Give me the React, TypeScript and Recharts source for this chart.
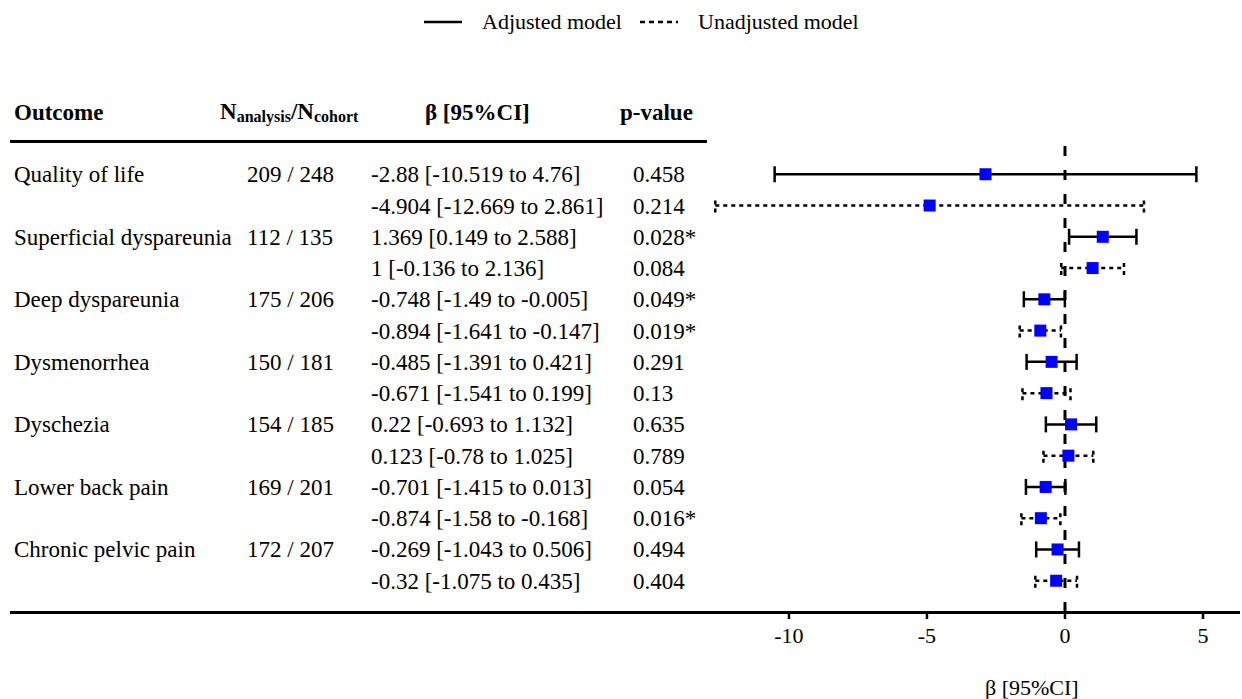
import React from 'react';
import { ErrorBar, ReferenceLine, Scatter, ScatterChart, XAxis, YAxis } from 'recharts';

const outcomes = [
  'Quality of life',
  'Superficial dyspareunia',
  'Deep dyspareunia',
  'Dysmenorrhea',
  'Dyschezia',
  'Lower back pain',
  'Chronic pelvic pain',
];
const nAnalysis = [209, 112, 175, 150, 154, 169, 172];
const nCohort = [248, 135, 206, 181, 185, 201, 207];

const adjBeta = [-2.88, 1.369, -0.748, -0.485, 0.22, -0.701, -0.269];
const adjLow = [-10.519, 0.149, -1.49, -1.391, -0.693, -1.415, -1.043];
const adjHigh = [4.76, 2.588, -0.005, 0.421, 1.132, 0.013, 0.506];
const adjP = ['0.458', '0.028*', '0.049*', '0.291', '0.635', '0.054', '0.494'];

const unadjBeta = [-4.904, 1, -0.894, -0.671, 0.123, -0.874, -0.32];
const unadjLow = [-12.669, -0.136, -1.641, -1.541, -0.78, -1.58, -1.075];
const unadjHigh = [2.861, 2.136, -0.147, 0.199, 1.025, -0.168, 0.435];
const unadjP = ['0.214', '0.084', '0.019*', '0.13', '0.789', '0.016*', '0.404'];

const xTicks = [-10, -5, 0, 5];

const FONT = '"Liberation Serif", "Times New Roman", serif';
const CHART = { W: 1242, H: 699, TOP: 143, LEFT: 710, RIGHT: 2, AXIS_H: 87 } as const;
const Y_DOMAIN: [number, number] = [-1, 14];
const ROW_PX = (CHART.H - CHART.AXIS_H - CHART.TOP) / (Y_DOMAIN[1] - Y_DOMAIN[0]);
const rowY = (i: number) => CHART.TOP + (i - Y_DOMAIN[0]) * ROW_PX;

const adjData = adjBeta.map((b, i) => ({ x: b, y: i * 2, err: [b - adjLow[i], adjHigh[i] - b] }));
const unadjData = unadjBeta.map((b, i) => ({
  x: b,
  y: i * 2 + 1,
  err: [b - unadjLow[i], unadjHigh[i] - b],
}));

const tableRows = outcomes.flatMap((name, i) => [
  {
    name,
    n: `${nAnalysis[i]} / ${nCohort[i]}`,
    ci: `${adjBeta[i]} [${adjLow[i]} to ${adjHigh[i]}]`,
    p: adjP[i],
  },
  {
    name: '',
    n: '',
    ci: `${unadjBeta[i]} [${unadjLow[i]} to ${unadjHigh[i]}]`,
    p: unadjP[i],
  },
]);

const Square = ({ cx, cy }: { cx?: number; cy?: number }) =>
  cx == null || cy == null ? <g /> : <rect x={cx - 6} y={cy - 6} width={12} height={12} fill="#0000ff" />;

const Cell = ({ x, y, children, bold, size = 23 }: any) => (
  <div
    style={{
      position: 'absolute',
      left: x,
      top: y,
      transform: 'translateY(-50%)',
      fontSize: size,
      lineHeight: 1,
      whiteSpace: 'nowrap',
      fontWeight: bold ? 'bold' : 'normal',
    }}
  >
    {children}
  </div>
);

const SUB = { fontSize: 16, verticalAlign: -3 } as const;

export default function App() {
  return (
    <div
      style={{
        position: 'absolute',
        left: 0,
        top: 0,
        width: CHART.W,
        height: CHART.H,
        background: '#fff',
        fontFamily: FONT,
        color: '#000',
        overflow: 'hidden',
      }}
    >
      <ScatterChart
        width={CHART.W}
        height={CHART.H}
        margin={{ top: CHART.TOP, right: CHART.RIGHT, bottom: 0, left: CHART.LEFT }}
      >
        <XAxis
          type="number"
          dataKey="x"
          domain={[-12.86, 6.34]}
          allowDataOverflow
          ticks={xTicks}
          height={CHART.AXIS_H}
          axisLine={false}
          tickSize={7}
          tickMargin={8}
          tickLine={{ stroke: '#000', strokeWidth: 2.5 }}
          tick={{ fontFamily: FONT, fontSize: 22, fill: '#000' }}
        />
        <YAxis type="number" dataKey="y" domain={Y_DOMAIN} reversed hide />
        <ReferenceLine x={0} stroke="#000" strokeWidth={3} strokeDasharray="10 14" />
        <Scatter data={adjData} shape={<Square />} isAnimationActive={false} />
        <Scatter data={unadjData} shape={<Square />} isAnimationActive={false} />
        <Scatter data={adjData} shape={() => <g />} isAnimationActive={false}>
          <ErrorBar dataKey="err" direction="x" width={8} stroke="#000" strokeWidth={2.5} />
        </Scatter>
        <Scatter data={unadjData} shape={() => <g />} isAnimationActive={false}>
          <ErrorBar
            dataKey="err"
            direction="x"
            width={7}
            stroke="#000"
            strokeWidth={2.5}
            strokeDasharray="4 4"
          />
        </Scatter>
      </ScatterChart>

      {/* legend */}
      <svg style={{ position: 'absolute', left: 0, top: 0 }} width={CHART.W} height={45}>
        <line x1={424} x2={462} y1={22} y2={22} stroke="#000" strokeWidth={2.5} />
        <line x1={640} x2={678} y1={22} y2={22} stroke="#000" strokeWidth={2.5} strokeDasharray="5 4" />
      </svg>
      <Cell x={482} y={22} size={22}>Adjusted model</Cell>
      <Cell x={698} y={22} size={22}>Unadjusted model</Cell>

      {/* table header */}
      <Cell x={14} y={112} bold>Outcome</Cell>
      <Cell x={220} y={112} bold>
        N<span style={SUB}>analysis</span>/N<span style={SUB}>cohort</span>
      </Cell>
      <Cell x={425} y={112} bold>β [95%CI]</Cell>
      <Cell x={620} y={112} bold>p-value</Cell>
      <div style={{ position: 'absolute', left: 10, top: 140, width: 697, height: 3, background: '#000' }} />

      {tableRows.map((r, i) => (
        <React.Fragment key={i}>
          {r.name && <Cell x={14} y={rowY(i)}>{r.name}</Cell>}
          {r.n && <Cell x={247} y={rowY(i)}>{r.n}</Cell>}
          <Cell x={371} y={rowY(i)}>{r.ci}</Cell>
          <Cell x={633} y={rowY(i)}>{r.p}</Cell>
        </React.Fragment>
      ))}

      {/* bottom axis line across the whole figure */}
      <div style={{ position: 'absolute', left: 10, top: 611, width: 1230, height: 3, background: '#000' }} />
      <Cell x={985} y={688} size={22}>β [95%CI]</Cell>
    </div>
  );
}
